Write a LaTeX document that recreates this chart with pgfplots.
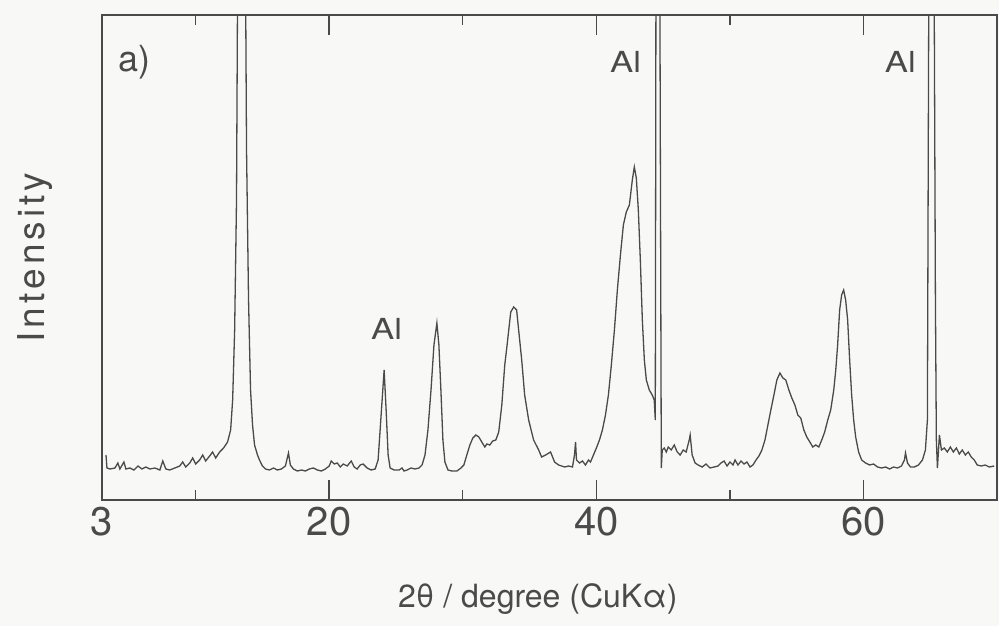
\documentclass[border=0pt]{standalone}
\usepackage{fontspec}
\setmainfont{TeX Gyre Heros}
\usepackage{pgfplots}
\pgfplotsset{compat=1.18}
\definecolor{ink}{HTML}{4A4A4A}
\definecolor{paper}{HTML}{F8F8F6}
\begin{document}
\begin{tikzpicture}
\fill[paper] (-102pt,-126pt) rectangle (897pt,500pt);
\begin{axis}[
  scale only axis, width=895pt, height=485pt,
  at={(0pt,0pt)}, anchor=south west,
  xmin=3, xmax=70, ymin=0, ymax=485,
  axis line style={ink, line width=1.4pt},
  xtick={3,20,40,60}, xticklabels={3,20,40,60},
  minor xtick={10,30,50},
  ytick=\empty,
  tick align=inside, xtick pos=both,
  major tick length=20pt, minor tick length=10pt,
  every tick/.style={ink, line width=1.4pt},
  /pgf/number format/assume math mode=true,
  xticklabel style={font=\fontsize{40}{40}\selectfont, text=ink, yshift=-4pt},
  xlabel={2θ / degree (CuKα)},
  xlabel style={at={(rel axis cs:0.487,0)}, anchor=base, yshift=-107pt, font=\fontsize{32}{32}\selectfont, text=ink},
  ylabel={\addfontfeatures{LetterSpace=11}Intensity},
  ylabel style={at={(rel axis cs:-0.075,0.5)}, anchor=center, font=\fontsize{37}{37}\selectfont, text=ink},
  clip=true,
]
\addplot[ink, line width=1.3pt] table {
x y
3.30 45
3.37 32
3.60 31
3.97 32
4.19 37
4.34 31
4.64 38
4.79 31
5.09 32
5.39 30
5.69 34
5.99 31
6.28 33
6.58 31
6.96 32
7.33 30
7.55 39
7.78 31
8.07 30
8.45 32
8.82 34
9.04 38
9.27 33
9.57 37
9.79 42
10.01 36
10.31 40
10.54 45
10.76 39
11.06 44
11.28 48
11.51 42
11.81 48
12.10 52
12.40 58
12.63 70
12.78 100
12.93 170
13.07 300
13.22 700
13.45 1300
13.67 700
13.82 350
13.97 200
14.12 110
14.27 75
14.42 55
14.64 45
14.79 40
15.01 34
15.24 31
15.54 30
15.84 32
16.13 30
16.43 31
16.73 34
16.96 47
17.10 35
17.33 31
17.63 29
17.93 30
18.22 29
18.52 31
18.82 32
19.12 30
19.42 29
19.72 31
20.01 34
20.16 39
20.39 36
20.61 37
20.84 33
21.06 36
21.36 34
21.66 39
21.88 33
22.10 31
22.33 35
22.55 36
22.85 32
23.15 30
23.45 31
23.67 40
23.82 70
23.97 100
24.12 130
24.27 90
24.42 45
24.57 32
24.87 30
25.24 30
25.46 32
25.61 29
25.84 30
26.13 32
26.43 31
26.73 32
26.96 35
27.18 45
27.40 70
27.63 110
27.85 155
28.07 177
28.22 155
28.37 110
28.52 60
28.67 38
28.90 30
29.19 29
29.57 29
29.87 32
30.09 35
30.31 45
30.54 55
30.76 62
30.99 65
31.21 63
31.43 58
31.66 53
31.81 56
32.03 55
32.25 59
32.48 60
32.70 68
32.93 95
33.15 135
33.30 152
33.45 170
33.60 188
33.82 193
34.04 190
34.19 170
34.42 140
34.64 105
34.94 80
35.31 60
35.69 50
35.91 43
36.21 45
36.58 48
36.88 38
37.18 35
37.63 33
37.93 34
38.22 33
38.37 45
38.45 58
38.52 40
38.75 37
38.97 39
39.19 35
39.42 40
39.57 38
39.79 45
40.01 52
40.24 60
40.46 70
40.69 85
40.91 105
41.13 135
41.36 170
41.58 210
41.81 245
42.03 275
42.25 288
42.48 295
42.70 320
42.85 333
43.00 322
43.15 290
43.30 240
43.45 180
43.60 140
43.75 120
43.97 110
44.19 105
44.34 100
44.42 80
44.49 700
44.57 1300
44.72 700
44.87 32
44.94 50
45.09 52
45.24 48
45.39 53
45.61 50
45.84 55
46.06 48
46.28 45
46.51 50
46.73 48
46.96 60
47.03 65
47.18 45
47.40 37
47.63 35
47.93 33
48.22 36
48.52 32
48.82 33
49.12 34
49.34 37
49.57 39
49.79 34
50.01 38
50.24 35
50.39 40
50.61 35
50.84 39
51.06 36
51.28 38
51.51 33
51.73 35
51.96 40
52.18 44
52.40 50
52.63 60
52.85 75
53.07 90
53.30 105
53.52 120
53.75 127
53.97 122
54.19 120
54.42 110
54.64 102
54.87 95
55.09 85
55.31 82
55.54 70
55.76 63
55.99 58
56.21 53
56.43 55
56.66 53
56.88 60
57.10 68
57.33 80
57.55 90
57.78 110
57.93 130
58.07 155
58.22 190
58.37 205
58.52 210
58.67 200
58.82 180
58.97 140
59.12 105
59.27 80
59.42 63
59.64 48
59.87 40
60.16 37
60.46 35
60.76 36
61.06 33
61.36 32
61.66 33
61.96 31
62.25 33
62.55 32
62.85 34
63.07 40
63.15 47
63.30 37
63.52 33
63.82 33
64.12 35
64.42 40
64.64 50
64.79 80
64.94 700
65.09 1300
65.24 700
65.39 200
65.46 60
65.54 32
65.69 65
65.84 50
66.06 52
66.28 48
66.51 53
66.73 48
66.96 52
67.18 46
67.40 50
67.63 45
67.85 48
68.07 43
68.30 40
68.52 35
68.82 34
69.12 35
69.42 33
69.79 34
};
\node[text=ink, font=\fontsize{36}{36}\selectfont] at (rel axis cs:0.036,0.903) {a)};
\node[text=ink, font=\fontsize{29}{29}\selectfont] at (rel axis cs:0.585,0.903) {\addfontfeatures{FakeStretch=1.2}Al};
\node[text=ink, font=\fontsize{29}{29}\selectfont] at (rel axis cs:0.892,0.903) {\addfontfeatures{FakeStretch=1.2}Al};
\node[text=ink, font=\fontsize{29}{29}\selectfont] at (rel axis cs:0.318,0.353) {\addfontfeatures{FakeStretch=1.2}Al};
\end{axis}
\path (-102pt,-126pt) rectangle (897pt,500pt);
\end{tikzpicture}
\end{document}
